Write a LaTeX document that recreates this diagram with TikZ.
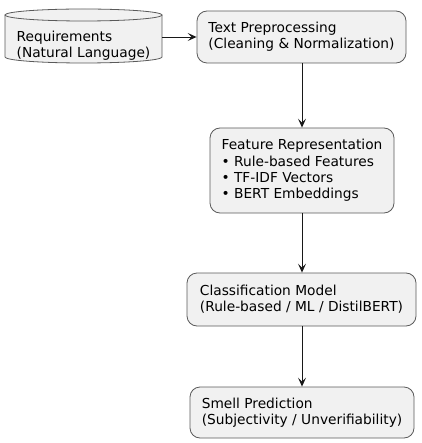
\documentclass[tikz,border=0pt]{standalone}
\usepackage{fontspec}
\setmainfont{DejaVu Sans}
\usetikzlibrary{arrows.meta}
\definecolor{boxfill}{HTML}{F1F1F1}
\definecolor{boxline}{HTML}{5A5A5A}
\definecolor{arrowline}{HTML}{181818}
\begin{document}
\begin{tikzpicture}[x=1pt,y=-1pt,
  every node/.style={font=\fontsize{13.75}{16.3}\selectfont, text=black},
  stepbox/.style={draw=boxline, fill=boxfill, line width=0.8pt, rounded corners=10pt,
    align=left, inner sep=0pt},
  flow/.style={draw=arrowline, line width=0.9pt, -{Stealth[length=9pt,width=8pt,inset=4pt]}}]
\useasboundingbox (0,0) rectangle (421,443);
% cylinder
\fill[boxfill] (5,15) -- (5,57) arc[start angle=180,end angle=360,x radius=78.5pt,y radius=6pt]
  -- (162,15) arc[start angle=0,end angle=180,x radius=78.5pt,y radius=6pt] -- cycle;
\draw[boxline, line width=0.8pt] (5,15) -- (5,57) arc[start angle=180,end angle=360,x radius=78.5pt,y radius=6pt] -- (162,15);
\draw[boxline, line width=0.8pt] (83.5,15) ellipse[x radius=78.5pt,y radius=6pt];
\node[align=left, inner sep=0pt, minimum width=157pt, minimum height=40pt] (req) at (83.5,46)
  {Requirements\\(Natural Language)};
% boxes
\node[stepbox, minimum width=209pt, minimum height=52pt] (pre) at (301.5,37)
  {Text Preprocessing\\(Cleaning \& Normalization)};
\node[stepbox, minimum width=184pt, minimum height=85pt] (feat) at (302,170.5)
  {Feature Representation\\• Rule-based Features\\• TF-IDF Vectors\\• BERT Embeddings};
\node[stepbox, minimum width=229pt, minimum height=53pt] (cls) at (301.5,299.5)
  {Classification Model\\(Rule-based / ML / DistilBERT)};
\node[stepbox, minimum width=224pt, minimum height=51pt] (pred) at (302,412.5)
  {Smell Prediction\\(Subjectivity / Unverifiability)};
% connectors
\draw[flow] (req.east |- pre.west) -- (pre.west);
\draw[flow] (feat.north |- pre.south) -- (feat.north);
\draw[flow] (feat.south) -- (feat.south |- cls.north);
\draw[flow] (feat.south |- cls.south) -- (feat.south |- pred.north);
\end{tikzpicture}
\end{document}
